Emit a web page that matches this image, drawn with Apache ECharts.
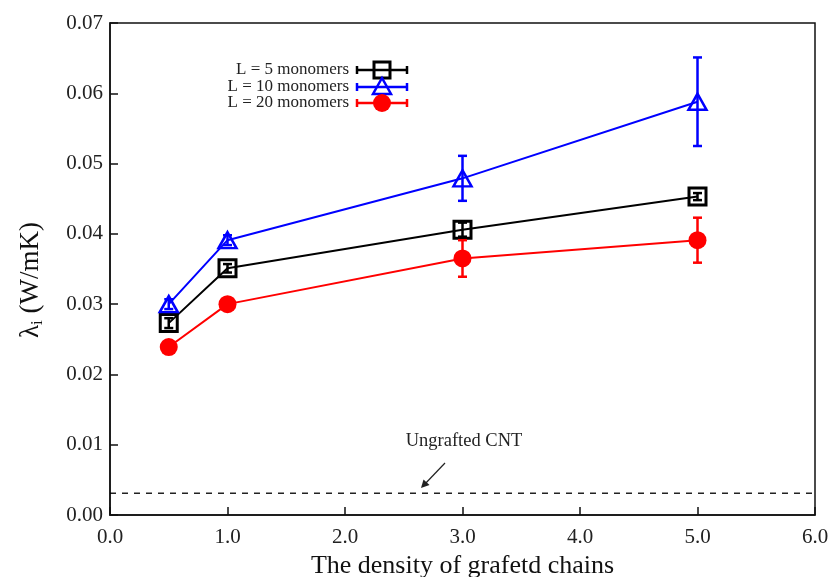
<!DOCTYPE html>
<html>
<head>
<meta charset="utf-8">
<title>Interfacial thermal conductance vs grafting density</title>
<script src="https://cdn.jsdelivr.net/npm/echarts@6/dist/echarts.min.js"></script>
<style>
  html, body { margin: 0; padding: 0; background: #fff; }
  #chart { width: 838px; height: 577px; }
</style>
</head>
<body>
<div id="chart"></div>
<script>
// Grafting density (chains per unit area)
var densities = [0.5, 1.0, 3.0, 5.0];

// Interfacial thermal conductivity λi (W/mK) for each chain length
var seriesNames = ['L = 5 monomers', 'L = 10 monomers', 'L = 20 monomers'];
var valuesL5  = [0.0273, 0.0351, 0.0406, 0.0453];
var valuesL10 = [0.0300, 0.0391, 0.0479, 0.0588];
var valuesL20 = [0.0239, 0.0300, 0.0365, 0.0391];

// Half-length of each error bar (W/mK)
var errorsL5  = [0.0007, 0.0006, 0.0010, 0.0005];
var errorsL10 = [0.0007, 0.0007, 0.0032, 0.0063];
var errorsL20 = [0.0000, 0.0000, 0.0026, 0.0032];

// Reference level of the ungrafted nanotube
var ungraftedX = [0.0, 6.0];
var ungraftedValue = 0.0031;

var xTicks = ['0.0', '1.0', '2.0', '3.0', '4.0', '5.0', '6.0'];
var yTicks = ['0.00', '0.01', '0.02', '0.03', '0.04', '0.05', '0.06', '0.07'];

var SERIF = '"Liberation Serif", "DejaVu Serif", serif';
var colors = ['#000000', '#0000ff', '#ff0000'];

function pairs(xs, ys) {
  return xs.map(function (x, i) { return [x, ys[i]]; });
}
function errTriples(xs, ys, es) {
  return xs.map(function (x, i) { return [x, ys[i] - es[i], ys[i] + es[i]]; });
}

function errorBarSeries(name, color, data) {
  return {
    name: name + ' error',
    type: 'custom',
    z: 5,
    silent: true,
    data: data,
    renderItem: function (params, api) {
      var lo = api.coord([api.value(0), api.value(1)]);
      var hi = api.coord([api.value(0), api.value(2)]);
      var cap = 4.5;
      var style = { stroke: color, lineWidth: 2.5 };
      if (Math.abs(hi[1] - lo[1]) < 0.5) { return null; }
      return {
        type: 'group',
        children: [
          { type: 'line', shape: { x1: lo[0], y1: lo[1], x2: hi[0], y2: hi[1] }, style: style },
          { type: 'line', shape: { x1: lo[0] - cap, y1: lo[1], x2: lo[0] + cap, y2: lo[1] }, style: style },
          { type: 'line', shape: { x1: hi[0] - cap, y1: hi[1], x2: hi[0] + cap, y2: hi[1] }, style: style }
        ]
      };
    }
  };
}

// Legend entries drawn as text plus a marker with a horizontal error bar
function legendEntry(label, color, symbolShape, cy) {
  var sx = 382, half = 25, cap = 4;
  var st = { stroke: color, lineWidth: 2.5 };
  return [
    { type: 'text', x: 349, y: cy, style: { text: label, font: '17px ' + SERIF, fill: '#222', align: 'right', verticalAlign: 'middle' } },
    { type: 'line', shape: { x1: sx - half, y1: cy, x2: sx + half, y2: cy }, style: st },
    { type: 'line', shape: { x1: sx - half, y1: cy - cap, x2: sx - half, y2: cy + cap }, style: st },
    { type: 'line', shape: { x1: sx + half, y1: cy - cap, x2: sx + half, y2: cy + cap }, style: st },
    symbolShape
  ];
}

var legendGraphics = []
  .concat(legendEntry(seriesNames[0], colors[0],
    { type: 'rect', shape: { x: 374, y: 62, width: 16, height: 16 }, style: { fill: 'rgba(255,255,255,0)', stroke: colors[0], lineWidth: 3 } }, 70))
  .concat(legendEntry(seriesNames[1], colors[1],
    { type: 'polygon', shape: { points: [[382, 78], [373, 94], [391, 94]] }, style: { fill: 'rgba(255,255,255,0)', stroke: colors[1], lineWidth: 2.5 } }, 87))
  .concat(legendEntry(seriesNames[2], colors[2],
    { type: 'circle', shape: { cx: 382, cy: 103, r: 9 }, style: { fill: colors[2] } }, 103));

var chart = echarts.init(document.getElementById('chart'), null, { renderer: 'canvas' });

var option = {
  backgroundColor: '#ffffff',
  animation: false,
  grid: {
    left: 110, right: 23, top: 23, bottom: 62,
    outerBoundsMode: 'none',
    show: true, borderColor: '#111', borderWidth: 1.5, backgroundColor: 'transparent'
  },
  xAxis: {
    type: 'value', min: 0, max: 6, interval: 1,
    name: 'The density of grafetd chains',
    nameLocation: 'middle', nameGap: 35,
    nameTextStyle: { fontFamily: SERIF, fontSize: 26, color: '#111' },
    axisLine: { show: true, onZero: false, lineStyle: { color: '#111', width: 1.5 } },
    axisTick: { show: true, inside: true, length: 8, lineStyle: { color: '#111', width: 1.5 } },
    axisLabel: {
      fontFamily: SERIF, fontSize: 21, color: '#222', margin: 12,
      formatter: function (v) { return xTicks[Math.round(v)]; }
    },
    splitLine: { show: false }
  },
  yAxis: {
    type: 'value', min: 0, max: 0.07, interval: 0.01,
    name: '{l|λ}{sub|i}{l| (W/mK)}',
    nameLocation: 'middle', nameGap: 64, nameRotate: 90,
    nameTextStyle: {
      fontFamily: SERIF, fontSize: 27, color: '#111', padding: [0, 22, 0, 0],
      rich: {
        l: { fontFamily: SERIF, fontSize: 27, color: '#111' },
        sub: { fontFamily: SERIF, fontSize: 17, color: '#111', padding: [14, 0, 0, 0] }
      }
    },
    axisLine: { show: true, lineStyle: { color: '#111', width: 1.5 } },
    axisTick: { show: true, inside: true, length: 8, lineStyle: { color: '#111', width: 1.5 } },
    axisLabel: {
      fontFamily: SERIF, fontSize: 21, color: '#222', margin: 7,
      formatter: function (v) { return yTicks[Math.round(v * 100)]; }
    },
    splitLine: { show: false }
  },
  series: [
    {
      name: 'Ungrafted CNT', type: 'line', silent: true, symbol: 'none', z: 1,
      data: ungraftedX.map(function (x) { return [x, ungraftedValue]; }),
      lineStyle: { color: '#000', width: 1.3, type: [6, 6] }
    },
    {
      name: seriesNames[2], type: 'line', data: pairs(densities, valuesL20), z: 3,
      symbol: 'circle', symbolSize: 18,
      lineStyle: { color: colors[2], width: 2 },
      itemStyle: { color: colors[2] }
    },
    {
      name: seriesNames[0], type: 'line', data: pairs(densities, valuesL5), z: 3,
      symbol: 'rect', symbolSize: 17,
      lineStyle: { color: colors[0], width: 2 },
      itemStyle: { color: 'rgba(255,255,255,0)', borderColor: colors[0], borderWidth: 3 }
    },
    {
      name: seriesNames[1], type: 'line', data: pairs(densities, valuesL10), z: 3,
      symbol: 'triangle', symbolSize: [18, 16],
      lineStyle: { color: colors[1], width: 2 },
      itemStyle: { color: 'rgba(255,255,255,0)', borderColor: colors[1], borderWidth: 2.5 }
    },
    errorBarSeries(seriesNames[0], colors[0], errTriples(densities, valuesL5, errorsL5)),
    errorBarSeries(seriesNames[1], colors[1], errTriples(densities, valuesL10, errorsL10)),
    errorBarSeries(seriesNames[2], colors[2], errTriples(densities, valuesL20, errorsL20))
  ],
  graphic: legendGraphics.concat([
    { type: 'text', x: 464, y: 441, style: { text: 'Ungrafted CNT', font: '18.5px ' + SERIF, fill: '#222', align: 'center', verticalAlign: 'middle' } },
    { type: 'line', shape: { x1: 445, y1: 463, x2: 423, y2: 486 }, style: { stroke: '#222', lineWidth: 1.2 } },
    { type: 'polygon', shape: { points: [[421, 488], [423.5, 479.5], [429.5, 485]] }, style: { fill: '#222' } }
  ])
};

chart.setOption(option);
</script>
</body>
</html>
